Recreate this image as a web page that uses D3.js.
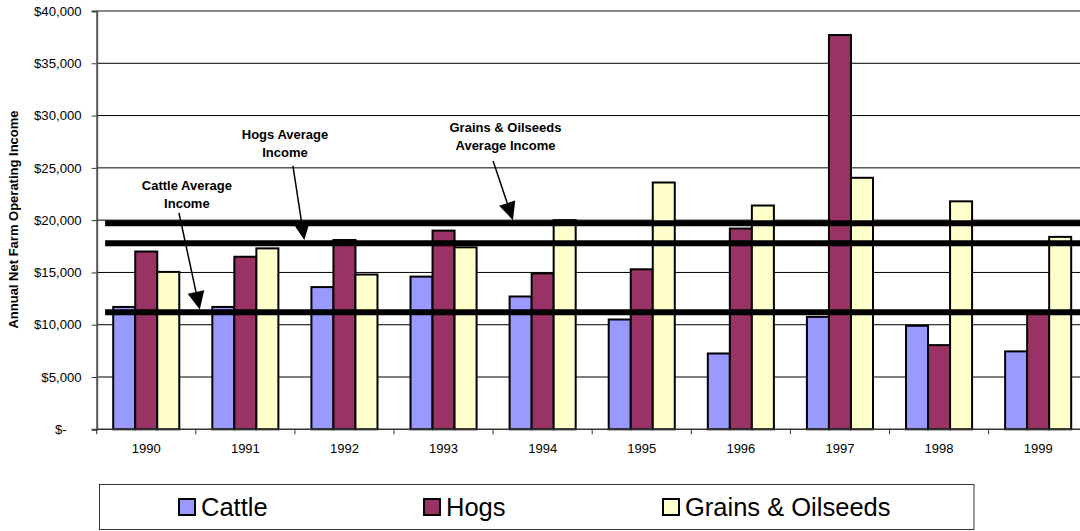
<!DOCTYPE html>
<html>
<head>
<meta charset="utf-8">
<script src="https://cdn.jsdelivr.net/npm/d3@7/dist/d3.min.js"></script>
<style>
  html, body { margin: 0; padding: 0; background: #fff; }
  svg { display: block; font-family: "Liberation Sans", Arial, sans-serif; }
</style>
</head>
<body>
<svg id="chart" width="1080" height="531"></svg>
<script>
// ---- data ----
const years = ["1990","1991","1992","1993","1994","1995","1996","1997","1998","1999"];
const seriesNames = ["Cattle","Hogs","Grains & Oilseeds"];
const cattle = [11700, 11700, 13600, 14600, 12700, 10500, 7250, 10750, 9900, 7450];
const hogs   = [17000, 16500, 18100, 19000, 14900, 15300, 19200, 37700, 8050, 11100];
const grains = [15050, 17300, 14800, 17400, 20000, 23600, 21400, 24050, 21800, 18400];
const averages = [11200, 17800, 19700];   // Cattle, Hogs, Grains average lines
const yTicks = [0, 5000, 10000, 15000, 20000, 25000, 30000, 35000, 40000];
const colors = ["#9999FF", "#993366", "#FFFFCC"];
// annotations: text lines, text centre (category-index units, value), arrow start & tip
const annotations = [
  { lines: ["Cattle Average", "Income"], tx: 0.91, ty: 22900, x0: 0.83, v0: 20700, x1: 1.04, v1: 11450 },
  { lines: ["Hogs Average", "Income"], tx: 1.90, ty: 27750, x0: 1.98, v0: 25200, x1: 2.095, v1: 18100 },
  { lines: ["Grains & Oilseeds", "Average Income"], tx: 4.125, ty: 28450, x0: 4.0, v0: 25650, x1: 4.20, v1: 20000 }
];

const seriesValues = [cattle, hogs, grains];

// ---- layout ----
const svg = d3.select("#chart");
const pLeft = 96.7, pRight = 1087.7, pTop = 11, pBottom = 429.3;

const x = d3.scaleBand().domain(years).range([pLeft, pRight]).paddingInner(0).paddingOuter(0);
const xs = d3.scaleBand().domain(seriesNames).range([0, x.bandwidth()]).paddingInner(0).paddingOuter(0.75);
const y = d3.scaleLinear().domain([0, 40000]).range([pBottom, pTop]);
const xi = d3.scaleLinear().domain([0, years.length]).range([pLeft, pRight]); // category-index units

// gridlines
svg.append("g").selectAll("line").data(yTicks.filter(d => d > 0 && d < 40000)).join("line")
  .attr("x1", pLeft).attr("x2", 1080).attr("y1", d => y(d)).attr("y2", d => y(d))
  .attr("stroke", "#000").attr("stroke-width", 1);

// top border
svg.append("line").attr("x1", pLeft).attr("x2", 1080).attr("y1", y(40000)).attr("y2", y(40000))
  .attr("stroke", "#8a8a8a").attr("stroke-width", 2);

// bars
const groups = svg.append("g").selectAll("g").data(years).join("g")
  .attr("transform", d => `translate(${x(d)},0)`);
groups.selectAll("rect")
  .data((d, i) => seriesNames.map((s, k) => ({ s, k, v: seriesValues[k][i] })))
  .join("rect")
  .attr("x", d => xs(d.s))
  .attr("width", xs.bandwidth())
  .attr("y", d => y(d.v))
  .attr("height", d => y(0) - y(d.v))
  .attr("fill", d => colors[d.k])
  .attr("stroke", "#000")
  .attr("stroke-width", 2);

// y axis
const yAxis = d3.axisLeft(y).tickValues(yTicks).tickSize(5).tickPadding(10)
  .tickFormat(d => d === 0 ? "$-" : "$" + d3.format(",")(d));
const yg = svg.append("g").attr("transform", `translate(${pLeft},0)`).call(yAxis);
yg.select(".domain").attr("stroke", "#555").attr("stroke-width", 2);
yg.selectAll(".tick line").attr("stroke", "#333");
yg.selectAll(".tick text").attr("font-size", 13.2).attr("fill", "#000")
  .attr("font-family", "Liberation Sans, Arial, sans-serif")
  .attr("dx", d => d === 0 ? -15 : 0);

// x axis line
svg.append("line").attr("x1", pLeft).attr("x2", 1080).attr("y1", pBottom).attr("y2", pBottom)
  .attr("stroke", "#333").attr("stroke-width", 1.5);
// boundary ticks
svg.append("g").selectAll("line").data(d3.range(years.length + 1)).join("line")
  .attr("x1", d => xi(d)).attr("x2", d => xi(d))
  .attr("y1", pBottom).attr("y2", pBottom + 5)
  .attr("stroke", "#333").attr("stroke-width", 1);
// x labels
const xAxis = d3.axisBottom(x).tickSize(0).tickPadding(14);
const xg = svg.append("g").attr("transform", `translate(0,${pBottom})`).call(xAxis);
xg.select(".domain").remove();
xg.selectAll(".tick text").attr("font-size", 13).attr("fill", "#000")
  .attr("font-family", "Liberation Sans, Arial, sans-serif");

// average lines
svg.append("g").selectAll("line").data(averages).join("line")
  .attr("x1", xi(0.085)).attr("x2", 1080)
  .attr("y1", d => y(d)).attr("y2", d => y(d))
  .attr("stroke", "#000").attr("stroke-width", 6);

// annotations
const ag = svg.append("g");
annotations.forEach(a => {
  const t = ag.append("text")
    .attr("x", xi(a.tx)).attr("y", y(a.ty))
    .attr("text-anchor", "middle").attr("font-size", 13).attr("font-weight", "bold").attr("fill", "#000");
  a.lines.forEach((l, i) => t.append("tspan").attr("x", xi(a.tx)).attr("dy", i === 0 ? 0 : 18).text(l));
  const sx = xi(a.x0), sy = y(a.v0), ex = xi(a.x1), ey = y(a.v1);
  const ang = Math.atan2(ey - sy, ex - sx);
  const L = 18, W = 8.5;
  const bx = ex - L * Math.cos(ang), by = ey - L * Math.sin(ang);
  ag.append("line").attr("x1", sx).attr("y1", sy).attr("x2", bx).attr("y2", by)
    .attr("stroke", "#000").attr("stroke-width", 1.5);
  const p1 = [bx + W * Math.sin(ang), by - W * Math.cos(ang)];
  const p2 = [bx - W * Math.sin(ang), by + W * Math.cos(ang)];
  ag.append("path").attr("d", `M${ex},${ey}L${p1[0]},${p1[1]}L${p2[0]},${p2[1]}Z`).attr("fill", "#000");
});

// y axis title
svg.append("text")
  .attr("transform", `translate(18,${(107 + 332) / 2}) rotate(-90)`)
  .attr("text-anchor", "middle").attr("font-size", 13).attr("font-weight", "bold")
  .text("Annual Net Farm Operating Income");

// legend
const lg = svg.append("g");
lg.append("rect").attr("x", 99.5).attr("y", 484.5).attr("width", 874.5).attr("height", 45)
  .attr("fill", "#fff").attr("stroke", "#333").attr("stroke-width", 1);
const legendX = [178, 423, 662];
seriesNames.forEach((s, k) => {
  lg.append("rect").attr("x", legendX[k] + 1).attr("y", 499).attr("width", 16).attr("height", 16)
    .attr("fill", colors[k]).attr("stroke", "#000").attr("stroke-width", 2);
  lg.append("text").attr("x", legendX[k] + 23).attr("y", 516).attr("font-size", 25.5)
    .attr("fill", "#000").text(s);
});
</script>
</body>
</html>
